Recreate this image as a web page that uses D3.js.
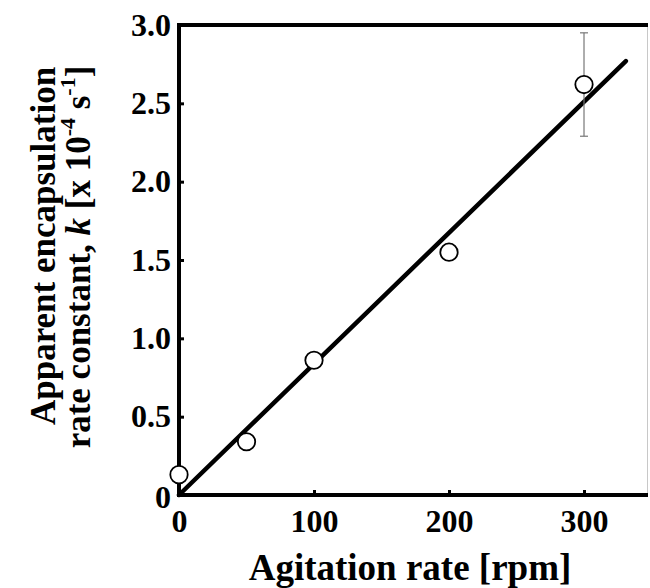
<!DOCTYPE html>
<html>
<head>
<meta charset="utf-8">
<script src="https://cdn.jsdelivr.net/npm/d3@7"></script>
<style>
  body { margin: 0; background: #fff; }
  svg text { font-family: "Liberation Serif", "Times New Roman", serif; font-weight: bold; fill: #000; }
</style>
</head>
<body>
<div id="chart"></div>
<script>
// measured points
var rpm = [0, 50, 100, 200, 300];
var kVals = [0.13, 0.34, 0.86, 1.55, 2.62];

// error bar (only at 300 rpm)
var errRpm = [300];
var errLow = [2.29];
var errHigh = [2.95];

// linear fit
var fitRpm = [0, 331];
var fitK = [0, 2.77];

var xTicks = [0, 100, 200, 300];
var yTicks = [0, 0.5, 1.0, 1.5, 2.0, 2.5, 3.0];

var W = 650, H = 588;
var pLeft = 179, pRight = 648, pTop = 25, pBottom = 495;

var svg = d3.select("#chart").append("svg").attr("width", W).attr("height", H);

var x = d3.scaleLinear().domain([0, 347.4]).range([pLeft, pRight]),
    y = d3.scaleLinear().domain([0, 3]).range([pBottom, pTop]);

var xAxis = d3.axisBottom(x).tickValues(xTicks).tickSizeInner(-5).tickSizeOuter(0).tickPadding(14),
    yAxis = d3.axisLeft(y).tickValues(yTicks).tickSizeInner(-5).tickSizeOuter(0).tickPadding(8)
      .tickFormat(function(d) { return d === 0 ? "0" : d3.format(".1f")(d); });

var gx = svg.append("g")
    .attr("transform", "translate(0," + pBottom + ")")
    .call(xAxis);
var gy = svg.append("g")
    .attr("transform", "translate(" + pLeft + ",0)")
    .call(yAxis);

[gx, gy].forEach(function(g) {
  g.select(".domain").remove();
  g.selectAll(".tick line").attr("stroke", "#000").attr("stroke-width", 3);
  g.selectAll(".tick text").style("font-size", "32px");
});
gy.selectAll(".tick text").filter(function(d) { return d === 0; }).attr("dy", "0.38em");

// frame
svg.append("line").attr("x1", pRight - 0.5).attr("x2", pRight - 0.5).attr("y1", pTop).attr("y2", pBottom)
    .attr("stroke", "#c8c8c8").attr("stroke-width", 1);
svg.append("path")
    .attr("d", "M" + pRight + "," + pTop + "H" + pLeft + "V" + pBottom + "H" + pRight)
    .attr("fill", "none").attr("stroke", "#000").attr("stroke-width", 4)
    .attr("stroke-linejoin", "miter");

// fit line
var fitData = fitRpm.map(function(d, i) { return {x: d, k: fitK[i]}; });
svg.append("path")
    .datum(fitData)
    .attr("d", d3.line().x(function(d) { return x(d.x); }).y(function(d) { return y(d.k); }))
    .attr("fill", "none").attr("stroke", "#000").attr("stroke-width", 4.5).attr("stroke-linecap", "round");

// error bars
errRpm.forEach(function(r, i) {
  var g = svg.append("g").attr("stroke", "#777").attr("stroke-width", 1.2);
  g.append("line").attr("x1", x(r)).attr("x2", x(r)).attr("y1", y(errLow[i])).attr("y2", y(errHigh[i]));
  g.append("line").attr("x1", x(r) - 4).attr("x2", x(r) + 4).attr("y1", y(errLow[i])).attr("y2", y(errLow[i]));
  g.append("line").attr("x1", x(r) - 4).attr("x2", x(r) + 4).attr("y1", y(errHigh[i])).attr("y2", y(errHigh[i]));
});

// points
svg.selectAll("circle.pt")
    .data(rpm)
  .enter().append("circle")
    .attr("class", "pt")
    .attr("cx", function(d) { return x(d); })
    .attr("cy", function(d, i) { return y(kVals[i]); })
    .attr("r", 8.7)
    .attr("fill", "#fff").attr("stroke", "#000").attr("stroke-width", 1.8);

// axis titles
svg.append("text")
    .attr("x", 410).attr("y", 580)
    .attr("text-anchor", "middle")
    .style("font-size", "37px")
    .text("Agitation rate [rpm]");

svg.append("text")
    .attr("transform", "translate(55,246) rotate(-90)")
    .attr("text-anchor", "middle")
    .style("font-size", "35px")
    .text("Apparent encapsulation");

var t2 = svg.append("text")
    .attr("transform", "translate(90,257) rotate(-90)")
    .attr("text-anchor", "middle")
    .style("font-size", "35px");
t2.append("tspan").text("rate constant, ");
t2.append("tspan").style("font-style", "italic").text("k");
t2.append("tspan").text(" [x 10");
t2.append("tspan").attr("dy", -15).style("font-size", "22px").text("-4");
t2.append("tspan").attr("dy", 15).text(" s");
t2.append("tspan").attr("dy", -15).style("font-size", "22px").text("-1");
t2.append("tspan").attr("dy", 15).text("]");
</script>
</body>
</html>
